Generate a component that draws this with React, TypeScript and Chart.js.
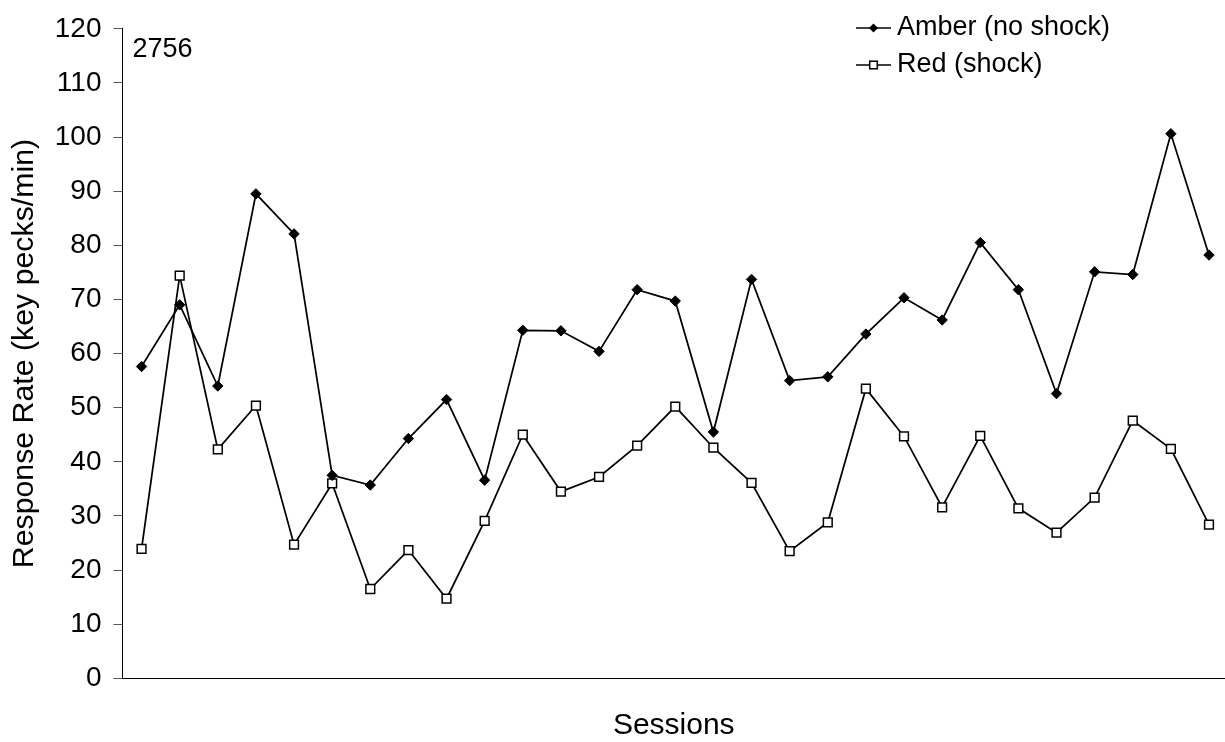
import React, { useEffect, useRef } from 'react';
import { Chart, registerables } from 'chart.js';

Chart.register(...registerables);

// ---- data ----
const sessions = [1, 2, 3, 4, 5, 6, 7, 8, 9, 10, 11, 12, 13, 14, 15, 16, 17, 18, 19, 20, 21, 22, 23, 24, 25, 26, 27, 28, 29];
const amberNoShock = [57.6, 69.0, 54.0, 89.5, 82.1, 37.5, 35.7, 44.3, 51.5, 36.6, 64.3, 64.2, 60.4, 71.8, 69.7, 45.5, 73.7, 55.0, 55.7, 63.6, 70.3, 66.2, 80.5, 71.8, 52.6, 75.1, 74.6, 100.6, 78.2];
const redShock = [23.9, 74.4, 42.3, 50.4, 24.7, 36.0, 16.5, 23.7, 14.7, 29.1, 45.0, 34.5, 37.2, 43.0, 50.2, 42.6, 36.1, 23.5, 28.8, 53.5, 44.7, 31.6, 44.8, 31.4, 26.9, 33.4, 47.6, 42.4, 28.4];
const seriesNames = ['Amber (no shock)', 'Red (shock)'];
const subjectId = '2756';
const yMin = 0;
const yMax = 120;
const yStep = 10;
const xTitle = 'Sessions';
const yTitle = 'Response Rate (key pecks/min)';

const FONT = "'Liberation Sans', Arial, Helvetica, sans-serif";

const overlayPlugin = {
  id: 'overlay',
  afterDraw(chart: any) {
    const { ctx, chartArea } = chart;
    ctx.save();
    // subject id
    ctx.fillStyle = '#000';
    ctx.font = `27px ${FONT}`;
    ctx.textBaseline = 'middle';
    ctx.textAlign = 'left';
    ctx.fillText(subjectId, chartArea.left + 10, chartArea.top + 21);

    // legend
    const lx = 856;
    const rows = [28, 65];
    const sampleLen = 35;
    seriesNames.forEach((name, i) => {
      const y = rows[i];
      ctx.strokeStyle = '#000';
      ctx.lineWidth = 1.5;
      ctx.beginPath();
      ctx.moveTo(lx, y);
      ctx.lineTo(lx + sampleLen, y);
      ctx.stroke();
      const cx = lx + sampleLen / 2;
      if (i === 0) {
        const r = 4.5;
        ctx.fillStyle = '#000';
        ctx.beginPath();
        ctx.moveTo(cx, y - r);
        ctx.lineTo(cx + r, y);
        ctx.lineTo(cx, y + r);
        ctx.lineTo(cx - r, y);
        ctx.closePath();
        ctx.fill();
      } else {
        const s = 3.8;
        ctx.fillStyle = '#fff';
        ctx.fillRect(cx - s, y - s, 2 * s, 2 * s);
        ctx.lineWidth = 1.5;
        ctx.strokeRect(cx - s, y - s, 2 * s, 2 * s);
      }
      ctx.fillStyle = '#000';
      ctx.font = `27px ${FONT}`;
      ctx.textBaseline = 'middle';
      ctx.fillText(name, lx + sampleLen + 6, y);
    });
    ctx.restore();
  },
};

export default function App() {
  const canvasRef = useRef<HTMLCanvasElement | null>(null);

  useEffect(() => {
    const canvas = canvasRef.current;
    if (!canvas) return;
    const chart = new Chart(canvas, {
      type: 'line',
      data: {
        datasets: [
          {
            label: seriesNames[0],
            data: sessions.map((s, i) => ({ x: s, y: amberNoShock[i] })),
            borderColor: '#000',
            borderWidth: 1.75,
            pointStyle: 'rectRot',
            pointRadius: 5.2,
            pointBackgroundColor: '#000',
            pointBorderColor: '#000',
            pointBorderWidth: 1,
            tension: 0,
          },
          {
            label: seriesNames[1],
            data: sessions.map((s, i) => ({ x: s, y: redShock[i] })),
            borderColor: '#000',
            borderWidth: 1.75,
            pointStyle: 'rect',
            pointRadius: 6.2,
            pointBackgroundColor: '#fff',
            pointBorderColor: '#000',
            pointBorderWidth: 1.5,
            tension: 0,
          },
        ],
      },
      options: {
        responsive: false,
        animation: false,
        devicePixelRatio: 1,
        layout: { autoPadding: false, padding: { top: 24, right: 0, bottom: 0, left: 0 } },
        plugins: {
          legend: { display: false },
          tooltip: { enabled: false },
          title: { display: false },
        },
        scales: {
          x: {
            type: 'linear',
            min: 0.5,
            max: 29.42,
            grid: { display: false, drawTicks: false },
            border: { display: true, color: '#000', width: 1 },
            ticks: { display: false },
            title: {
              display: true,
              text: xTitle,
              color: '#000',
              font: { family: FONT, size: 30 },
              padding: { top: 0, bottom: -2 },
            },
            afterFit(scale: any) {
              scale.height = 63.7;
            },
          },
          y: {
            min: yMin,
            max: yMax,
            grid: {
              drawOnChartArea: false,
              drawTicks: true,
              tickLength: 9,
              color: '#555',
            },
            border: { display: true, color: '#000', width: 1 },
            ticks: {
              stepSize: yStep,
              color: '#000',
              padding: 12,
              font: { family: FONT, size: 28 },
            },
            title: {
              display: true,
              text: yTitle,
              color: '#000',
              font: { family: FONT, size: 30.3 },
              padding: { top: 6, bottom: 0 },
            },
            afterFit(scale: any) {
              scale.width = 122.5;
            },
          },
        },
      },
      plugins: [overlayPlugin],
    });
    return () => chart.destroy();
  }, []);

  return (
    <div style={{ position: 'fixed', left: 0, top: 0, width: 1225, height: 742, background: '#fff' }}>
      <canvas ref={canvasRef} width={1225} height={742} style={{ display: 'block' }} />
    </div>
  );
}
